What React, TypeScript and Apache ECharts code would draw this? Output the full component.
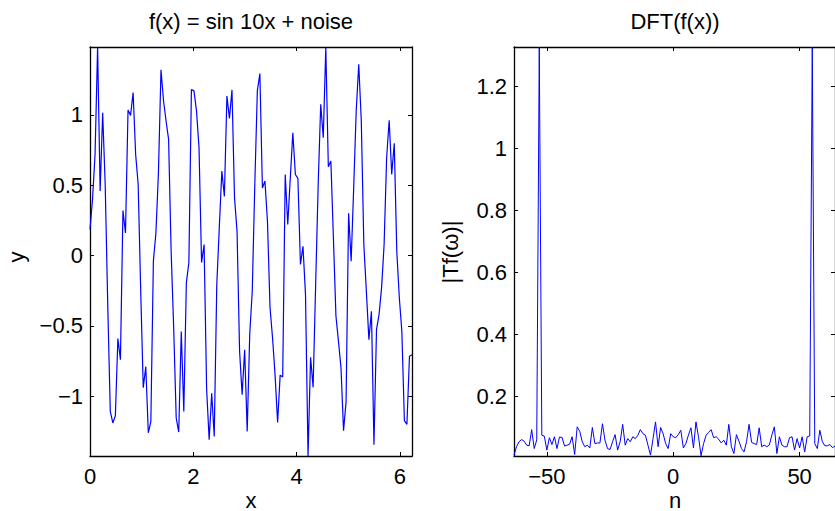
import React, { useEffect, useRef } from "react";
import * as echarts from "echarts";

// ---- data ----
const SAMPLES = 128;
// f(x) samples, k = 0..127, x = 2*pi*k/128
const signalValues = [
  0.185, 0.4, 0.72, 1.482, 0.458, 1.015, 0.5, -0.35, -1.108, -1.19,
  -1.14, -0.59, -0.74, 0.32, 0.16, 1.034, 0.996, 1.158, 0.72, 0.505,
  -0.25, -0.94, -0.79, -1.26, -1.18, -0.04, 0.16, 0.59, 1.32, 1.1,
  0.956, 0.826, 0.03, -0.51, -1.155, -1.255, -0.54, -1.108, -0.195, -0.05,
  1.18, 1.17, 1.03, 0.766, -0.05, 0.078, -0.95, -1.31, -0.98, -1.286,
  -0.21, 0.2, 0.6, 0.42, 1.134, 0.975, 1.177, 0.41, 0.17, -0.68,
  -0.99, -0.67, -1.25, -0.56, -0.25, 0.505, 1.17, 1.293, 0.48, 0.53,
  0.24, -0.37, -0.586, -0.85, -1.186, -0.85, -0.864, 0.576, 0.22, 0.55,
  0.873, 0.576, 0.548, -0.064, 0.066, -0.28, -1.425, -0.724, -0.937, -0.206,
  0.505, 1.075, 0.837, 1.478, 0.631, 0.671, 0.126, -0.43, -0.61, -0.8,
  -1.245, -1.04, 0.3, -0.04, 0.48, 1.03, 1.36, 0.956, 0.078, -0.254,
  -0.598, -0.396, -1.345, -0.527, -0.42, -0.23, 0.078, 0.695, 0.961, 0.576,
  0.797, 0.03, -0.3, -0.54, -1.174, -1.2, -0.716, -0.705,
];
// |DFT| values, n = -63..64
const dftStartN = -63;
const dftValues = [
  0.011, 0.038, 0.054, 0.061, 0.056, 0.043, 0.041, 0.093, 0.032, 0.06,
  1.327, 0.075, 0.072, 0.027, 0.067, 0.045, 0.07, 0.032, 0.069, 0.068,
  0.04, 0.043, 0.046, 0.07, 0.013, 0.102, 0.088, 0.054, 0.038, 0.043,
  0.034, 0.1, 0.048, 0.05, 0.05, 0.112, 0.059, 0.032, 0.029, 0.054,
  0.077, 0.027, 0.054, 0.11, 0.043, 0.064, 0.054, 0.07, 0.064, 0.075,
  0.093, 0.08, 0.075, 0.043, 0.011, 0.064, 0.118, 0.038, 0.1, 0.08,
  0.048, 0.032, 0.08, 0.07, 0.067, 0.077, 0.091, 0.034, 0.048, 0.075,
  0.099, 0.034, 0.118, 0.07, 0.009, 0.048, 0.075, 0.084, 0.093, 0.067,
  0.07, 0.062, 0.05, 0.059, 0.043, 0.11, 0.038, 0.016, 0.077, 0.056,
  0.032, 0.021, 0.054, 0.11, 0.052, 0.048, 0.045, 0.099, 0.038, 0.043,
  0.038, 0.043, 0.075, 0.102, 0.016, 0.07, 0.043, 0.038, 0.038, 0.067,
  0.07, 0.027, 0.064, 0.034, 0.07, 0.021, 0.07, 0.073, 1.327, 0.048,
  0.032, 0.091, 0.054, 0.041, 0.041, 0.045, 0.035, 0.04,
];
const leftXTicks = [0, 2, 4, 6];
const leftYTicks = [-1, -0.5, 0, 0.5, 1];
const rightXTicks = [-50, 0, 50];
const rightYTicks = [0.2, 0.4, 0.6, 0.8, 1, 1.2];
const leftTitle = "f(x) = sin 10x + noise";
const rightTitle = "DFT(f(x))";
const leftXName = "x";
const leftYName = "y";
const rightXName = "n";
const rightYName = "|Tf(ω)|";

const FONT = "'Liberation Sans', Arial, Helvetica, sans-serif";
const FS = 22;

const fmt = (v: number) => (v < 0 ? "\u2212" + String(Math.abs(v)) : String(v));

function makeX(grid: number, min: number, max: number, ticks: number[], pos: "bottom" | "top") {
  return {
    type: "value",
    gridIndex: grid,
    position: pos,
    min,
    max,
    axisLine: { show: true, onZero: false, lineStyle: { color: "#000", width: 1.3 } },
    axisTick: { show: true, inside: true, length: 4, customValues: ticks, lineStyle: { color: "#000", width: 1 } },
    axisLabel: {
      show: pos === "bottom",
      customValues: ticks,
      formatter: fmt,
      margin: 9,
      fontSize: FS,
      fontFamily: FONT,
      color: "#000",
    },
    splitLine: { show: false },
  };
}

function makeY(grid: number, min: number, max: number, ticks: number[], pos: "left" | "right") {
  return {
    type: "value",
    gridIndex: grid,
    position: pos,
    min,
    max,
    axisLine: { show: true, onZero: false, lineStyle: { color: "#000", width: 1.3 } },
    axisTick: { show: true, inside: true, length: 4, customValues: ticks, lineStyle: { color: "#000", width: 1 } },
    axisLabel: {
      show: pos === "left",
      customValues: ticks,
      formatter: fmt,
      margin: 7,
      fontSize: FS,
      fontFamily: FONT,
      color: "#000",
    },
    splitLine: { show: false },
  };
}

function txt(text: string, x: number, y: number, rot = 0) {
  return {
    type: "text",
    x,
    y,
    rotation: rot,
    silent: true,
    style: {
      text,
      fontSize: FS,
      fontFamily: FONT,
      fill: "#000",
      align: "center",
      verticalAlign: "middle",
      textAlign: "center",
      textVerticalAlign: "middle",
    },
  };
}

export default function App() {
  const ref = useRef<HTMLDivElement>(null);
  useEffect(() => {
    if (!ref.current) return;
    const chart = echarts.init(ref.current, undefined, { renderer: "svg" });
    const step = (2 * Math.PI) / SAMPLES;
    const leftData = signalValues.map((v, i) => [i * step, v]);
    const rightData = dftValues.map((v, i) => [dftStartN + i, v]);
    const leftMaxX = (SAMPLES - 1) * step;
    const rightMaxN = dftStartN + dftValues.length - 1;
    const sMin = Math.min(...signalValues);
    const sMax = Math.max(...signalValues);
    const dMin = 0.008;
    const dMax = Math.max(...dftValues);
    chart.setOption({
      animation: false,
      backgroundColor: "#fff",
      grid: [
        { left: 90, top: 47, width: 322, height: 409, containLabel: false },
        { left: 514, top: 47, width: 323, height: 409, containLabel: false },
      ],
      xAxis: [
        makeX(0, 0, leftMaxX, leftXTicks, "bottom"),
        makeX(0, 0, leftMaxX, leftXTicks, "top"),
        makeX(1, dftStartN, rightMaxN, rightXTicks, "bottom"),
        makeX(1, dftStartN, rightMaxN, rightXTicks, "top"),
      ],
      yAxis: [
        makeY(0, sMin, sMax, leftYTicks, "left"),
        makeY(0, sMin, sMax, leftYTicks, "right"),
        makeY(1, dMin, dMax, rightYTicks, "left"),
        makeY(1, dMin, dMax, rightYTicks, "right"),
      ],
      series: [
        {
          type: "line",
          xAxisIndex: 0,
          yAxisIndex: 0,
          data: leftData,
          showSymbol: false,
          symbol: "none",
          lineStyle: { color: "#0000ff", width: 1.2 },
          silent: true,
        },
        {
          type: "line",
          xAxisIndex: 2,
          yAxisIndex: 2,
          data: rightData,
          showSymbol: false,
          symbol: "none",
          lineStyle: { color: "#0000ff", width: 1 },
          silent: true,
        },
      ],
      graphic: [
        txt(leftTitle, 251, 21),
        txt(rightTitle, 675, 21),
        txt(leftXName, 251, 500),
        txt(rightXName, 675, 500),
        txt(leftYName, 16, 257, Math.PI / 2),
        txt(rightYName, 450, 252, Math.PI / 2),
      ],
    });
    return () => chart.dispose();
  }, []);
  return (
    <div
      ref={ref}
      style={{ position: "fixed", left: 0, top: 0, width: 835, height: 511, overflow: "hidden", background: "#fff" }}
    />
  );
}
